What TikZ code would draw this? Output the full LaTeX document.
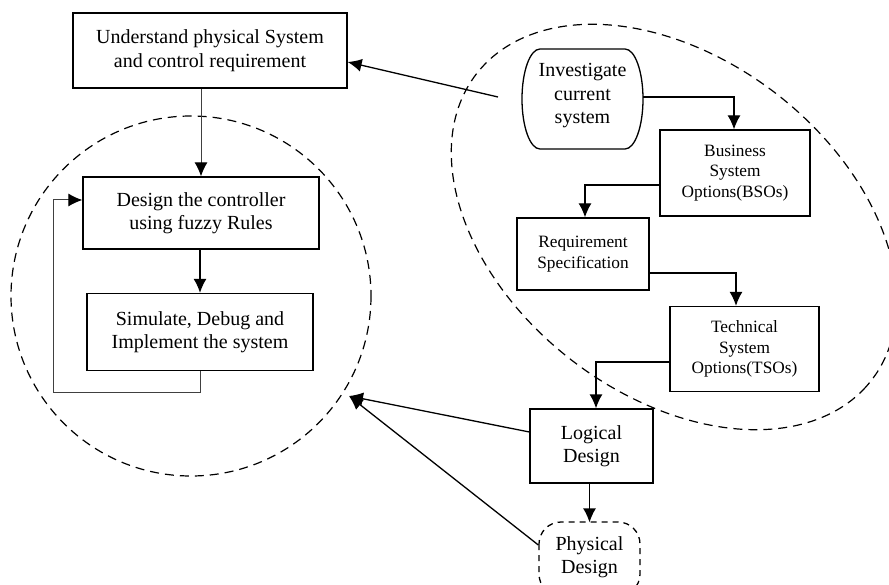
\documentclass[tikz,border=0pt]{standalone}
\usepackage{fontspec}
\setmainfont{Liberation Serif}
\usetikzlibrary{arrows.meta}
\newcommand{\bigtxt}{\fontsize{20}{23.5}\selectfont}
\newcommand{\smalltxt}{\fontsize{17.3}{20.3}\selectfont}
\tikzset{
  boxnode/.style={draw, line width=1.3pt, align=center, inner sep=0pt, font=\bigtxt},
  smallbox/.style={boxnode, font=\smalltxt},
  arr/.style={line width=1.3pt, -{Latex[length=14pt,width=13pt]}},
  thinarr/.style={line width=1pt, draw=black!75, -{Latex[length=14pt,width=13pt,color=black]}},
  dashline/.style={line width=1.2pt, dash pattern=on 9pt off 6pt},
}
\begin{document}
\begin{tikzpicture}[x=1pt,y=-1pt]
\useasboundingbox (0,0) rectangle (889,585);
% dashed groupings
\draw[dashline] (191,296) circle [radius=180];
\draw[dashline] plot[domain=0:360, samples=120, smooth cycle]
  ({674+250*cos(\x)*0.790-168*sin(\x)*0.613},{227+250*cos(\x)*0.613+168*sin(\x)*0.790});
% nodes
\node[boxnode, minimum width=274pt, minimum height=75pt] (box1) at (210,50.5) {Understand physical System\\and control requirement};
\node[boxnode, minimum width=236pt, minimum height=72pt] (box2) at (201,213) {Design the controller\\using fuzzy Rules};
\node[boxnode, minimum width=226pt, minimum height=77pt] (box3) at (200,332) {Simulate, Debug and\\Implement the system};
\node[align=center, font=\bigtxt, minimum width=121pt, minimum height=100pt, inner sep=0pt] (inv) at (582.5,96) {Investigate\\current\\system};
\draw[line width=1.3pt] (540,49) -- (625,49) arc[start angle=-90, end angle=90, x radius=18, y radius=50] -- (540,149) arc[start angle=90, end angle=270, x radius=18, y radius=50] -- cycle;
\node[smallbox, minimum width=150pt, minimum height=86pt] (bso) at (735,173) {Business\\System\\Options(BSOs)};
\node[smallbox, minimum width=132pt, minimum height=72pt] (req) at (583,254) {Requirement\\Specification};
\node[smallbox, minimum width=149pt, minimum height=85pt] (tso) at (744.5,349) {Technical\\System\\Options(TSOs)};
\node[boxnode, minimum width=123pt, minimum height=74pt] (log) at (591.5,446) {Logical\\Design};
\node[boxnode, draw=none, minimum width=101pt, minimum height=70pt] (phys) at (589.5,557) {Physical\\Design};
\draw[dashline, line width=1.3pt, dash pattern=on 6pt off 5pt, rounded corners=22pt] (539,522) rectangle (640,596);
% connectors
\coordinate (c1) at (498,97);
\coordinate (tgt) at (349,396);
\coordinate (fb) at (53,392);
\draw[arr] (c1) -- ([yshift=-11.5pt]box1.east);
\draw[thinarr] (box1.south -| box2.north) -- (box2.north);
\draw[arr] (box2.south -| box3.north) -- (box3.north);
\draw[thinarr] (box3.south) |- (fb) |- ([yshift=13pt]box2.west);
\draw[arr] ([yshift=-1pt]inv.east) -| ([xshift=-1pt]bso.north);
\draw[arr] ([yshift=-12pt]bso.west) -| ([xshift=2pt]req.north);
\draw[arr] ([yshift=-19pt]req.east) -| ([xshift=-8.5pt]tso.north);
\draw[arr] ([yshift=-13pt]tso.west) -| ([xshift=4.5pt]log.north);
\draw[arr] (log.south -| phys.north) -- ([yshift=-1pt]phys.north);
\draw[arr] ([yshift=14pt]log.west) -- (tgt);
\draw[arr] ([yshift=12pt]phys.west) -- (tgt);
\end{tikzpicture}
\end{document}
